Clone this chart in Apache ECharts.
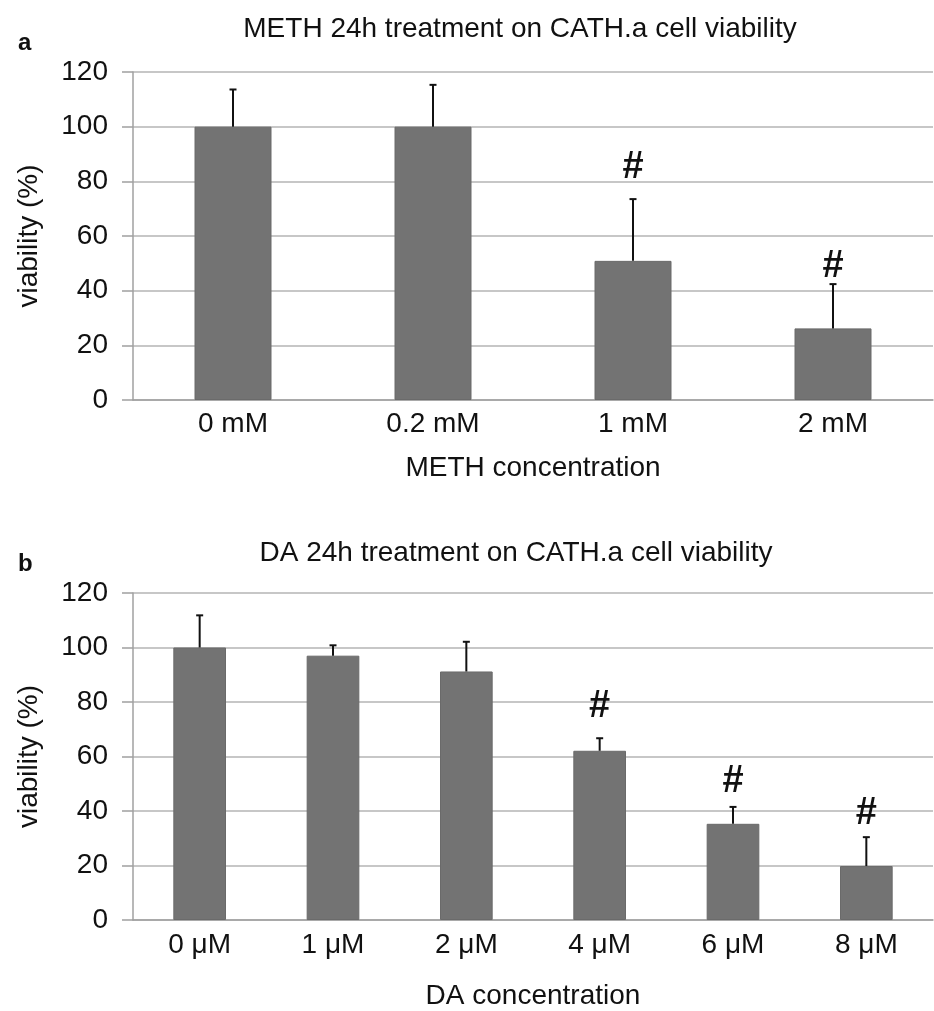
<!DOCTYPE html>
<html>
<head>
<meta charset="utf-8">
<script src="https://cdn.jsdelivr.net/npm/echarts@6/dist/echarts.min.js"></script>
<style>
html,body{margin:0;padding:0;background:#fff;}
#chart{width:934px;height:1011px;}
</style>
</head>
<body>
<div id="chart"></div>
<script>
// Panel a: METH
const catsA = ['0 mM', '0.2 mM', '1 mM', '2 mM'];
const valsA = [100, 100, 50.9, 26.2];
const errA = [13.6, 15.3, 22.6, 16.2];
const sigA = [null, null, 85, 48.7];   // y value (viability units) where '#' sits

// Panel b: DA
const catsB = ['0 μM', '1 μM', '2 μM', '4 μM', '6 μM', '8 μM'];
const valsB = [100, 97.0, 91.2, 62.1, 35.3, 19.8];
const errB = [11.8, 3.8, 10.9, 4.6, 6.2, 10.6];
const sigB = [null, null, null, 78.3, 50.7, 38.9];

const yTicks = [0, 20, 40, 60, 80, 100, 120];

const FONT = 'Liberation Sans, Arial, sans-serif';
const GRIDC = '#b4b4b4';
const AXISC = '#a0a0a0';
const BARC = '#737373';

function errData(vals, errs) { return vals.map((v, i) => [i, v, errs[i]]); }
function sigData(sig) { return sig.map((s, i) => s == null ? null : [i, s]).filter(d => d); }

function errRender(params, api) {
  const i = api.value(0), v = api.value(1), e = api.value(2);
  const p0 = api.coord([i, v]);
  const p1 = api.coord([i, v + e]);
  const st = { stroke: '#111', lineWidth: 2 };
  return {
    type: 'group',
    children: [
      { type: 'line', shape: { x1: p0[0], y1: p0[1], x2: p1[0], y2: p1[1] }, style: st },
      { type: 'line', shape: { x1: p1[0] - 3.5, y1: p1[1], x2: p1[0] + 3.5, y2: p1[1] }, style: st }
    ]
  };
}
function sigRender(params, api) {
  const p = api.coord([api.value(0), api.value(1)]);
  return {
    type: 'text', x: p[0], y: p[1],
    style: { text: '#', fill: '#111', font: 'bold 38px ' + FONT, align: 'center', verticalAlign: 'middle' }
  };
}

function yAxisCfg(gi) {
  return {
    gridIndex: gi, type: 'value', min: yTicks[0], max: yTicks[yTicks.length - 1], interval: 20,
    name: 'viability (%)', nameLocation: 'middle', nameGap: 90, nameRotate: 90,
    nameTextStyle: { fontFamily: FONT, fontSize: 28, color: '#111' },
    axisLine: { show: true, lineStyle: { color: AXISC, width: 1.5 } },
    axisTick: { show: true, length: 11, lineStyle: { color: AXISC, width: 1.5 } },
    axisLabel: { margin: 25, fontFamily: FONT, fontSize: 28, color: '#111' },
    splitLine: { show: true, lineStyle: { color: GRIDC, width: 1.5 } }
  };
}
function xAxisCfg(gi, cats, name, margin, gap) {
  return {
    gridIndex: gi, type: 'category', data: cats, boundaryGap: true,
    name: name, nameLocation: 'middle', nameGap: gap,
    nameTextStyle: { fontFamily: FONT, fontSize: 28, color: '#111' },
    axisLine: { show: true, lineStyle: { color: AXISC, width: 1.5 } },
    axisTick: { show: false },
    axisLabel: { margin: margin, fontFamily: FONT, fontSize: 28, color: '#111', interval: 0 }
  };
}

const chart = echarts.init(document.getElementById('chart'), null, { renderer: 'canvas' });
chart.setOption({
  animation: false,
  backgroundColor: '#fff',
  title: [
    { text: 'METH 24h treatment on CATH.a cell viability', left: 515, top: 10, textAlign: 'center',
      textStyle: { fontFamily: FONT, fontSize: 28, fontWeight: 'normal', color: '#111' } },
    { text: 'DA 24h treatment on CATH.a cell viability', left: 511, top: 534, textAlign: 'center',
      textStyle: { fontFamily: FONT, fontSize: 28, fontWeight: 'normal', color: '#111' } },
    { text: 'a', left: 13, top: 26, textStyle: { fontFamily: FONT, fontSize: 24, fontWeight: 'bold', color: '#111' } },
    { text: 'b', left: 13, top: 547, textStyle: { fontFamily: FONT, fontSize: 24, fontWeight: 'bold', color: '#111' } }
  ],
  grid: [
    { left: 133, right: 1, top: 72, height: 328, outerBoundsMode: 'none', containLabel: false },
    { left: 133, right: 1, top: 593, height: 327, outerBoundsMode: 'none', containLabel: false }
  ],
  xAxis: [
    xAxisCfg(0, catsA, 'METH concentration', 10, 54),
    xAxisCfg(1, catsB, 'DA concentration', 11, 62)
  ],
  yAxis: [yAxisCfg(0), yAxisCfg(1)],
  series: [
    { type: 'bar', xAxisIndex: 0, yAxisIndex: 0, data: valsA, barWidth: '38.5%',
      itemStyle: { color: BARC, borderColor: '#6a6a6a', borderWidth: 1 } },
    { type: 'custom', xAxisIndex: 0, yAxisIndex: 0, data: errData(valsA, errA), renderItem: errRender, z: 5 },
    { type: 'custom', xAxisIndex: 0, yAxisIndex: 0, data: sigData(sigA), renderItem: sigRender, z: 6 },
    { type: 'bar', xAxisIndex: 1, yAxisIndex: 1, data: valsB, barWidth: '39.5%',
      itemStyle: { color: BARC, borderColor: '#6a6a6a', borderWidth: 1 } },
    { type: 'custom', xAxisIndex: 1, yAxisIndex: 1, data: errData(valsB, errB), renderItem: errRender, z: 5 },
    { type: 'custom', xAxisIndex: 1, yAxisIndex: 1, data: sigData(sigB), renderItem: sigRender, z: 6 }
  ]
});
</script>
</body>
</html>
